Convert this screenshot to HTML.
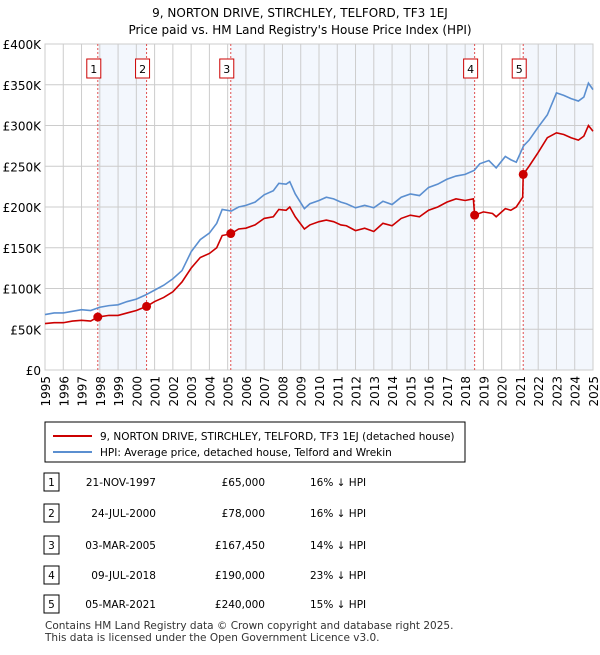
<!DOCTYPE html>
<html><head><meta charset="utf-8"><style>
body{margin:0;width:600px;height:650px;background:#fff;font-family:"Liberation Sans",sans-serif;overflow:hidden}
svg text{font-family:"DejaVu Sans","Liberation Sans",sans-serif}
</style></head><body>
<svg id="c" width="600" height="650" xmlns="http://www.w3.org/2000/svg">
<text x="300" y="17" text-anchor="middle" font-size="12" fill="#000">9, NORTON DRIVE, STIRCHLEY, TELFORD, TF3 1EJ</text>
<text x="300" y="34" text-anchor="middle" font-size="12" fill="#000">Price paid vs. HM Land Registry's House Price Index (HPI)</text>
<g id="plot"></g>
<rect x="45" y="422" width="420" height="40" fill="#fff" stroke="#000" stroke-width="1"/>
<line x1="53" y1="436" x2="92" y2="436" stroke="#cc0000" stroke-width="2"/>
<text x="100" y="440" font-size="10.5">9, NORTON DRIVE, STIRCHLEY, TELFORD, TF3 1EJ (detached house)</text>
<line x1="53" y1="452" x2="92" y2="452" stroke="#5b8fd0" stroke-width="2"/>
<text x="100" y="456" font-size="10.5">HPI: Average price, detached house, Telford and Wrekin</text>
<g id="tbl"></g>
<text x="45" y="629" font-size="10.5" fill="#333">Contains HM Land Registry data © Crown copyright and database right 2025.</text>
<text x="45" y="641" font-size="10.5" fill="#333">This data is licensed under the Open Government Licence v3.0.</text>
</svg>
<script>
const hpiYears=[1995,1995.5,1996,1996.5,1997,1997.5,1998,1998.5,1999,1999.5,2000,2000.5,2001,2001.5,2002,2002.5,2003,2003.5,2004,2004.4,2004.7,2005.2,2005.6,2006,2006.5,2007,2007.5,2007.8,2008.2,2008.4,2008.7,2009.2,2009.5,2010,2010.4,2010.8,2011.2,2011.5,2012,2012.5,2013,2013.5,2014,2014.5,2015,2015.5,2016,2016.5,2017,2017.5,2018,2018.5,2018.8,2019.3,2019.7,2020.2,2020.5,2020.8,2021.2,2021.5,2022,2022.5,2023,2023.4,2023.8,2024.2,2024.5,2024.75,2025];
const hpiValues=[68,70,70,72,74,73,77,79,80,84,87,92,98,104,112,122,145,160,168,180,197,195,200,202,206,215,220,229,228,231,216,198,204,208,212,210,206,204,199,202,199,207,203,212,216,214,224,228,234,238,240,245,253,257,248,262,258,255,275,282,298,313,340,337,333,330,335,352,344];
const ppYears=[1995,1995.5,1996,1996.5,1997,1997.5,1997.89,1998.5,1999,1999.5,2000,2000.56,2001,2001.5,2002,2002.5,2003,2003.5,2004,2004.4,2004.7,2005.17,2005.6,2006,2006.5,2007,2007.5,2007.8,2008.2,2008.4,2008.7,2009.2,2009.5,2010,2010.4,2010.8,2011.2,2011.5,2012,2012.5,2013,2013.5,2014,2014.5,2015,2015.5,2016,2016.5,2017,2017.5,2018,2018.45,2018.52,2019,2019.5,2019.7,2020.2,2020.5,2020.8,2021.15,2021.18,2021.5,2022,2022.5,2023,2023.4,2023.8,2024.2,2024.5,2024.75,2025];
const ppValues=[57,58,58,60,61,60,65,67,67,70,73,78,84,89,96,108,125,138,143,150,165,167,173,174,178,186,188,197,196,200,188,173,178,182,184,182,178,177,171,174,170,180,177,186,190,188,196,200,206,210,208,210,190,194,192,188,198,196,200,212,240,250,267,285,291,289,285,282,287,300,293];
const saleYears=[1997.89,2000.56,2005.17,2018.52,2021.18];
const saleValues=[65000,78000,167450,190000,240000];
const saleDates=["21-NOV-1997","24-JUL-2000","03-MAR-2005","09-JUL-2018","05-MAR-2021"];
const salePct=["16% ↓ HPI","16% ↓ HPI","14% ↓ HPI","23% ↓ HPI","15% ↓ HPI"];
const yTicks=[0,50,100,150,200,250,300,350,400];
const yTickLabels=["£0","£50K","£100K","£150K","£200K","£250K","£300K","£350K","£400K"];
const xTicks=[1995,1996,1997,1998,1999,2000,2001,2002,2003,2004,2005,2006,2007,2008,2009,2010,2011,2012,2013,2014,2015,2016,2017,2018,2019,2020,2021,2022,2023,2024,2025];

const NS="http://www.w3.org/2000/svg";
const X0=45,X1=593,Y0=370,Y1=44;
const xs=y=>X0+(y-1995)/(2025-1995)*(X1-X0);
const ys=v=>Y0-v/400*(Y0-Y1);
function mk(p,tag,a){const e=document.createElementNS(NS,tag);for(const k in a)e.setAttribute(k,a[k]);p.appendChild(e);return e;}
const g=document.getElementById('plot');
const bounds=[saleYears[0],saleYears[1],saleYears[2],saleYears[3],saleYears[4],2025];
for(let i=0;i<5;i+=2){
 const r=mk(g,'rect',{x:xs(bounds[i]),y:Y1,width:xs(bounds[i+1])-xs(bounds[i]),height:Y0-Y1,fill:'#eef3fc',opacity:0.7});
 
 
}
yTicks.forEach((t,i)=>{
 const l=mk(g,'line',{x1:X0,x2:X1,y1:ys(t),y2:ys(t),stroke:'#ccc','stroke-width':1});
 
 
 const tx=mk(g,'text',{x:X0-4,y:ys(t)+5,'text-anchor':'end','font-size':12});
 tx.textContent=yTickLabels[i];
 
 
});
xTicks.forEach(t=>{
 const l=mk(g,'line',{x1:xs(t),x2:xs(t),y1:Y1,y2:Y0,stroke:'#ccc','stroke-width':1});
 
 
 const tx=mk(g,'text',{x:0,y:0,'text-anchor':'end','font-size':12,transform:`translate(${xs(t)+5},${Y0+6}) rotate(-90)`});
 tx.textContent=t;
 
 
});
const fr=mk(g,'rect',{x:X0,y:Y1,width:X1-X0,height:Y0-Y1,fill:'none',stroke:'#ccc'});


saleYears.forEach((y,i)=>{
 const l=mk(g,'line',{x1:xs(y),x2:xs(y),y1:Y1,y2:Y0,stroke:'#e05050','stroke-width':1,'stroke-dasharray':'2,2'});
 
 
 const b=mk(g,'rect',{x:xs(y)-11,y:59,width:14,height:19,fill:'#fff',stroke:'#cc0000'});
 
 
 const t=mk(g,'text',{x:xs(y)-4,y:73,'text-anchor':'middle','font-size':11});
 t.textContent=i+1;
 
 
});
const line=(xa,va,c,n)=>{const p=mk(g,'polyline',{points:xa.map((y,i)=>xs(y)+','+ys(va[i])).join(' '),fill:'none',stroke:c,'stroke-width':1.6});
 
 };
line(hpiYears,hpiValues,'#5b8fd0','hpi-line');
line(ppYears,ppValues,'#cc0000','price-paid-line');
saleYears.forEach((y,i)=>{
 const c=mk(g,'circle',{cx:xs(y),cy:ys(saleValues[i]/1000),r:4.5,fill:'#cc0000'});
 
 
});
const tb=document.getElementById('tbl');
const rowY=[482,513,545,575,604];
saleDates.forEach((d,i)=>{
 const y=rowY[i];
 const b=mk(tb,'rect',{x:44,y:y-9,width:15,height:18,fill:'#fff',stroke:'#000'});
 
 
 const n=mk(tb,'text',{x:51.5,y:y+4,'text-anchor':'middle','font-size':10.5});n.textContent=i+1;
 
 
 const t1=mk(tb,'text',{x:156,y:y+4,'text-anchor':'end','font-size':10.5});t1.textContent=d;
 
 
 const t2=mk(tb,'text',{x:265,y:y+4,'text-anchor':'end','font-size':10.5});t2.textContent='£'+saleValues[i].toLocaleString('en-GB');
 
 
 const t3=mk(tb,'text',{x:310,y:y+4,'font-size':10.5});t3.textContent=salePct[i];
 
 
});
</script>
</body></html>
